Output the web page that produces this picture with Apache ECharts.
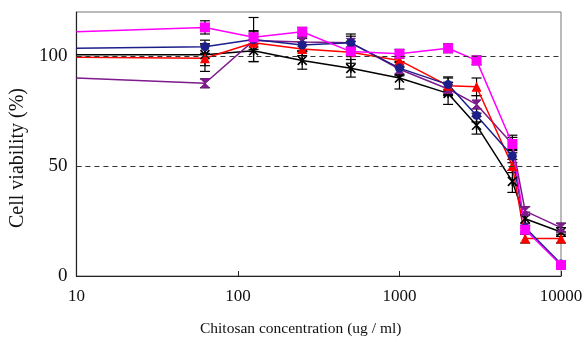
<!DOCTYPE html>
<html><head><meta charset="utf-8">
<script src="https://cdn.jsdelivr.net/npm/echarts@6/dist/echarts.min.js"></script>
<style>html,body{margin:0;padding:0;background:#fff}#c{width:587px;height:342px}</style>
</head><body><div id="c"></div>
<script>
const concentrations = [10, 62.5, 125, 250, 500, 1000, 2000, 3000, 5000, 6000, 10000];
const magentaVals = [111, 113, 108.5, 111, 102, 101, 103.5, 98, 60, 21, 5];
const magentaErr  = [0, 3, 3, 2, 2, 2, 2, 2, 4, 2, 1];
const blueVals    = [103.5, 104.2, 107.5, 105, 106, 94.5, 87, 73, 54.5, 22, 5.5];
const blueErr     = [0, 3, 10, 3, 3, 3, 3, 3, 3, 2, 1];
const redVals     = [99.4, 99, 106, 103.2, 101.7, 98, 86.5, 86, 50, 17, 17];
const redErr      = [0, 6, 4, 3, 5, 3, 4, 4, 3, 2, 2];
const blackVals   = [100.6, 100.6, 102.4, 98, 94.4, 90, 83, 68.5, 43, 26, 20];
const blackErr    = [0, 5, 5, 4, 4, 5, 5, 4, 5, 3, 2];
const purpleVals  = [90, 87.6, 107, 106.4, 106, 94, 85, 78, 60, 29.5, 22];
const purpleErr   = [0, 2, 4, 4, 4, 3, 3, 4, 3, 2, 2];
const xTickLabels = ['10', '100', '1000', '10000'];
const yTickLabels = ['0', '50', '100'];
const refLines = [50, 100];

const XPATH = 'path://M0,0L10,10M10,0L0,10M5,0L5,10';
const HOURGLASS = 'path://M0,0L10,0L0,10L10,10Z';

function pts(vals) {
  return concentrations.map((c, i) => i === 0 ? {value: [c, vals[i]], symbol: 'none'} : [c, vals[i]]);
}
function errData(vals, errs) {
  return concentrations.map((c, i) => [c, vals[i], errs[i]]).filter((d, i) => i > 0);
}
function errSeries(vals, errs) {
  return {
    type: 'custom', data: errData(vals, errs), z: 1, silent: true,
    renderItem: function (params, api) {
      const x = api.value(0), y = api.value(1), e = api.value(2);
      const top = api.coord([x, y + e]);
      const bot = api.coord([x, y - e]);
      const w = 5;
      const st = {stroke: '#000', lineWidth: 1.2};
      return {type: 'group', children: [
        {type: 'line', shape: {x1: top[0], y1: top[1], x2: bot[0], y2: bot[1]}, style: st},
        {type: 'line', shape: {x1: top[0] - w, y1: top[1], x2: top[0] + w, y2: top[1]}, style: st},
        {type: 'line', shape: {x1: bot[0] - w, y1: bot[1], x2: bot[0] + w, y2: bot[1]}, style: st}
      ]};
    }
  };
}
function lineSeries(vals, color, symbol, size, extra) {
  return Object.assign({
    type: 'line', data: pts(vals), symbol: symbol, symbolSize: size, z: 3,
    lineStyle: {color: color, width: 1.5},
    itemStyle: {color: color},
    animation: false
  }, extra || {});
}

const chart = echarts.init(document.getElementById('c'));
chart.setOption({
  animation: false,
  grid: {left: 76, right: 26, top: 12, bottom: 65, show: true, borderColor: '#777', borderWidth: 1},
  xAxis: {
    type: 'log', logBase: 10, min: 10, max: 10000,
    name: 'Chitosan concentration (ug / ml)', nameLocation: 'middle', nameGap: 45,
    nameTextStyle: {fontFamily: 'Liberation Serif', fontSize: 15.5, color: '#111', padding: [0, 36, 0, 0]},
    axisLine: {lineStyle: {color: '#222', width: 1.2}},
    axisTick: {inside: true, length: 5, lineStyle: {color: '#222'}},
    axisLabel: {fontFamily: 'Liberation Serif', fontSize: 17, color: '#111', margin: 12,
      formatter: v => { const s = String(Math.round(v)); return xTickLabels.includes(s) ? s : ''; }},
    splitLine: {show: false}, minorTick: {show: false}
  },
  yAxis: {
    type: 'value', min: 0, max: 120, interval: 50,
    name: 'Cell viability (%)', nameLocation: 'middle', nameGap: 38,
    nameTextStyle: {fontFamily: 'Liberation Serif', fontSize: 20, color: '#111', padding: [0, 28, 0, 0]},
    axisLine: {show: true, lineStyle: {color: '#222', width: 1.2}},
    axisTick: {show: true, inside: true, length: 5, lineStyle: {color: '#222'}},
    axisLabel: {fontFamily: 'Liberation Serif', fontSize: 19, color: '#111', margin: 9, showMaxLabel: false,
      formatter: v => yTickLabels.includes(String(v)) ? String(v) : ''},
    splitLine: {show: false}
  },
  series: [
    {type: 'line', data: [], markLine: {silent: true, symbol: 'none', label: {show: false},
      lineStyle: {color: '#333', type: [5, 4], width: 1.2},
      data: refLines.map(v => ({yAxis: v}))}},
    errSeries(blackVals, blackErr),
    errSeries(purpleVals, purpleErr),
    errSeries(redVals, redErr),
    errSeries(blueVals, blueErr),
    errSeries(magentaVals, magentaErr),
    lineSeries(blackVals, '#000000', XPATH, 9, {itemStyle: {color: 'none', borderColor: '#000', borderWidth: 1.6}}),
    lineSeries(purpleVals, '#7d1a8c', HOURGLASS, 9, {itemStyle: {color: '#7d1a8c', borderColor: '#7d1a8c', borderWidth: 1}}),
    lineSeries(redVals, '#ff0000', 'triangle', 10),
    lineSeries(blueVals, '#1c1f8a', 'circle', 9),
    lineSeries(magentaVals, '#ff00ff', 'rect', 10)
  ]
});
</script></body></html>
